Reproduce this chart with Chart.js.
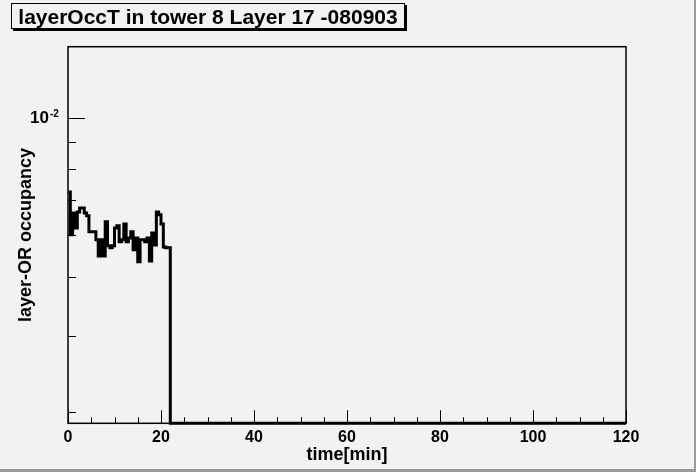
<!DOCTYPE html>
<html>
<head>
<meta charset="utf-8">
<script src="https://cdn.jsdelivr.net/npm/chart.js@4.4.1/dist/chart.umd.min.js"></script>
<style>
  html, body { margin: 0; padding: 0; background: #f2f2f2; }
  #wrap { position: relative; width: 696px; height: 472px; overflow: hidden; background: #f2f2f2; }
  #c { position: absolute; left: 0; top: 0; }
  #title {
    position: absolute; left: 11px; top: 3px; width: 392px; height: 24px;
    border: 1px solid #000; box-shadow: 2px 2px 0 #000; background: #f2f2f2;
    font: bold 21px "Liberation Sans", Arial, sans-serif; color: #000;
    text-align: center; line-height: 25px; white-space: nowrap;
  }
  #bR { position: absolute; right: 0; top: 0; width: 2px; height: 472px; background: #9a9a9a; }
  #bB { position: absolute; left: 0; bottom: 0; width: 696px; height: 3px; background: #9a9a9a; }
</style>
</head>
<body>
<div id="wrap">
  <canvas id="c" width="696" height="472"></canvas>
  <div id="title">layerOccT in tower 8 Layer 17 -080903</div>
  <div id="bR"></div>
  <div id="bB"></div>
</div>
<script>
// ---- data ----
const BIN_WIDTH = 0.5;            // minutes per histogram bin
const TIME_MIN = 0;
const TIME_MAX = 120;
// layer-OR occupancy per 0.5-minute bin, starting at t = 0 (bins after the last one are empty)
const OCCUPANCY = [
  0.00725, 0.00601, 0.00661, 0.00619, 0.00664, 0.00676, 0.00676, 0.00661,
  0.00653, 0.00609, 0.00609, 0.00609, 0.00588, 0.00548, 0.00588, 0.00548,
  0.00636, 0.00573, 0.00568, 0.00573, 0.00619, 0.00625, 0.00583, 0.00588,
  0.00630, 0.00583, 0.00593, 0.00609, 0.00563, 0.00593, 0.00534, 0.00588,
  0.00588, 0.00583, 0.00593, 0.00536, 0.00606, 0.00575, 0.00664, 0.00656,
  0.00630, 0.00570, 0.00568, 0.00568
];
const X_MAJOR_TICKS = [0, 20, 40, 60, 80, 100, 120];
const X_MINOR_TICKS = [5, 10, 15, 25, 30, 35, 45, 50, 55, 65, 70, 75, 85, 90, 95, 105, 110, 115];
const Y_MIN = 0.002638;
const Y_MAX = 0.01367;
const Y_MAJOR_TICKS = [0.01];
const Y_MINOR_TICKS = [0.009, 0.008, 0.007, 0.006, 0.005, 0.00387, 0.00277];
const Y_TICK_BASE = { 0.01: '10' };
const Y_TICK_EXP = { 0.01: '-2' };

// ---- build histogram outline from the bins ----
const points = [];
OCCUPANCY.forEach((v, i) => {
  points.push({ x: TIME_MIN + i * BIN_WIDTH, y: v });
  points.push({ x: TIME_MIN + (i + 1) * BIN_WIDTH, y: v });
});
const lastEdge = TIME_MIN + OCCUPANCY.length * BIN_WIDTH;
// empty bins are drawn on the lower edge of the log axis
points.push({ x: lastEdge, y: Y_MIN });
points.push({ x: TIME_MAX, y: Y_MIN });

const FONT = '"Liberation Sans", Arial, sans-serif';

const frameTicks = {
  id: 'frameTicks',
  beforeDraw(chart) {
    const { ctx } = chart;
    ctx.save();
    ctx.fillStyle = '#f2f2f2';
    ctx.fillRect(0, 0, chart.width, chart.height);
    ctx.restore();
  },
  afterDraw(chart) {
    const { ctx, chartArea: a, scales: { x, y } } = chart;
    ctx.save();
    ctx.strokeStyle = '#000';
    ctx.lineWidth = 1;
    ctx.beginPath();
    X_MAJOR_TICKS.forEach(v => {
      const px = Math.round(x.getPixelForValue(v)) + 0.5;
      ctx.moveTo(px, a.bottom); ctx.lineTo(px, a.bottom - 13);
    });
    X_MINOR_TICKS.forEach(v => {
      const px = Math.round(x.getPixelForValue(v)) + 0.5;
      ctx.moveTo(px, a.bottom); ctx.lineTo(px, a.bottom - 6);
    });
    Y_MAJOR_TICKS.forEach(v => {
      const py = Math.round(y.getPixelForValue(v)) + 0.5;
      ctx.moveTo(a.left, py); ctx.lineTo(a.left + 17, py);
    });
    Y_MINOR_TICKS.forEach(v => {
      const py = Math.round(y.getPixelForValue(v)) + 0.5;
      ctx.moveTo(a.left, py); ctx.lineTo(a.left + 8, py);
    });
    ctx.stroke();
    ctx.lineWidth = 1.5;
    ctx.strokeRect(a.left, a.top, a.right - a.left, a.bottom - a.top);
    // exponent of the decade labels on the log axis
    ctx.fillStyle = '#000';
    ctx.font = 'bold 10px ' + FONT;
    ctx.textAlign = 'left';
    ctx.textBaseline = 'alphabetic';
    Y_MAJOR_TICKS.forEach(v => {
      if (Y_TICK_EXP[v]) ctx.fillText(Y_TICK_EXP[v], a.left - 18, y.getPixelForValue(v) - 1.5);
    });
    ctx.restore();
  }
};

new Chart(document.getElementById('c'), {
  type: 'line',
  data: {
    datasets: [{
      data: points,
      borderColor: '#000',
      borderWidth: 3,
      pointRadius: 0,
      fill: false,
      tension: 0,
      clip: 3
    }]
  },
  options: {
    responsive: false,
    animation: false,
    devicePixelRatio: 1,
    layout: { padding: { left: 0, top: 46.7, right: 70, bottom: 0 } },
    plugins: { legend: { display: false }, tooltip: { enabled: false }, title: { display: false } },
    scales: {
      x: {
        type: 'linear',
        min: TIME_MIN, max: TIME_MAX,
        grid: { display: false },
        border: { display: false },
        afterBuildTicks: s => { s.ticks = X_MAJOR_TICKS.map(v => ({ value: v })); },
        ticks: { color: '#000', font: { family: FONT, size: 16, weight: 'bold' }, padding: -3, maxRotation: 0, autoSkip: false },
        title: { display: true, text: 'time[min]', color: '#000', font: { family: FONT, size: 18, weight: 'bold' }, padding: { top: 0, bottom: 6 } },
        afterFit: s => { s.height = 48.7; }
      },
      y: {
        type: 'logarithmic',
        min: Y_MIN, max: Y_MAX,
        grid: { display: false },
        border: { display: false },
        afterBuildTicks: s => { s.ticks = Y_MAJOR_TICKS.map(v => ({ value: v })); },
        ticks: {
          color: '#000', font: { family: FONT, size: 17, weight: 'bold' }, padding: 11, autoSkip: false,
          callback: v => Y_TICK_BASE[v] || ''
        },
        title: { display: true, text: 'layer-OR occupancy', color: '#000', font: { family: FONT, size: 18, weight: 'bold' }, padding: { top: 15, bottom: 0 } },
        afterFit: s => { s.width = 68; }
      }
    }
  },
  plugins: [frameTicks]
});
</script>
</body>
</html>
